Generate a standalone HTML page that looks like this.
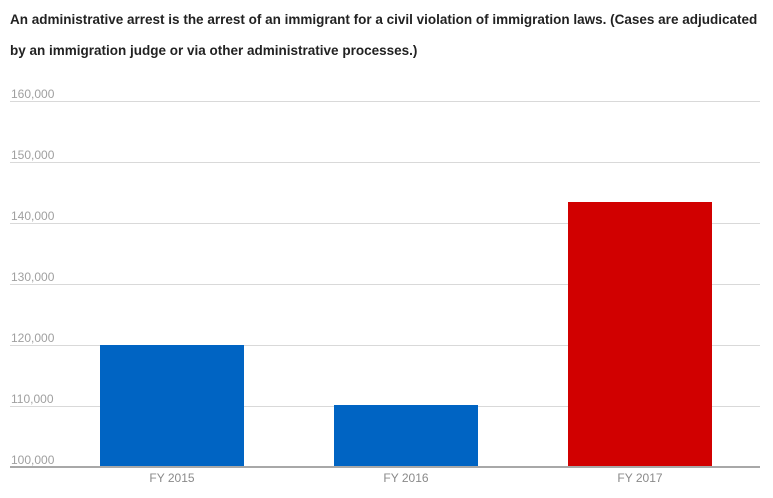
<!DOCTYPE html>
<html><head><style>
body{margin:0;width:773px;height:498px;background:#fff;font-family:"Liberation Sans",Arial,sans-serif;position:relative;overflow:hidden}
.t{position:absolute;left:10px;top:4px;width:765px;font-weight:bold;font-size:13.5px;line-height:31px;color:#222;white-space:nowrap}
.g{position:absolute;left:10px;width:750px;height:1px;background:#d9d9d9}
.l{position:absolute;left:11px;font-size:12px;color:#a0a0a0}
.b{position:absolute}
.x{position:absolute;top:471px;font-size:12px;color:#8a8a8a;width:144px;text-align:center}
</style></head><body>
<div class="t">An administrative arrest is the arrest of an immigrant for a civil violation of immigration laws. (Cases are adjudicated<br>by an immigration judge or via other administrative processes.)</div>
<div class="g" style="top:101px"></div><div class="l" style="top:87px">160,000</div>
<div class="g" style="top:162px"></div><div class="l" style="top:148px">150,000</div>
<div class="g" style="top:223px"></div><div class="l" style="top:209px">140,000</div>
<div class="g" style="top:284px"></div><div class="l" style="top:270px">130,000</div>
<div class="g" style="top:345px"></div><div class="l" style="top:331px">120,000</div>
<div class="g" style="top:406px"></div><div class="l" style="top:392px">110,000</div>
<div class="l" style="top:453px">100,000</div>
<div class="b" style="left:100px;top:345px;width:144px;height:122px;background:#0064c3"></div>
<div class="b" style="left:334px;top:405px;width:144px;height:62px;background:#0064c3"></div>
<div class="b" style="left:568px;top:202px;width:144px;height:265px;background:#d10000"></div>
<div class="g" style="top:466px;height:2px;background:#a8a8a8"></div>
<div class="x" style="left:100px">FY 2015</div>
<div class="x" style="left:334px">FY 2016</div>
<div class="x" style="left:568px">FY 2017</div>
</body></html>
